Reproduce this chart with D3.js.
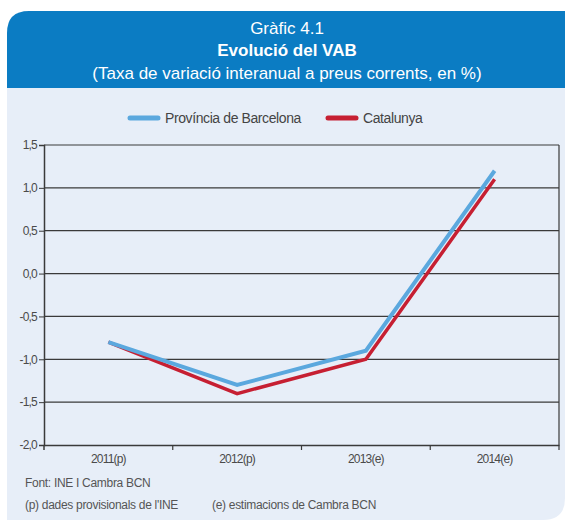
<!DOCTYPE html>
<html>
<head>
<meta charset="utf-8">
<script src="https://cdn.jsdelivr.net/npm/d3@7"></script>
<style>
  body { margin: 0; background: #fff; }
  text { font-family: "Liberation Sans", Arial, sans-serif; }
</style>
</head>
<body>
<script>
// chart data
var years = ["2011(p)", "2012(p)", "2013(e)", "2014(e)"];
var barcelona = [-0.8, -1.3, -0.9, 1.2];
var catalunya = [-0.8, -1.4, -1.0, 1.1];
var yTicks = [-2.0, -1.5, -1.0, -0.5, 0.0, 0.5, 1.0, 1.5];
var seriesNames = ["Província de Barcelona", "Catalunya"];
var seriesColors = ["#5ba8de", "#c61f32"];

var w = 565, h = 524;
var plotLeft = 44, plotRight = 559, plotTop = 145, plotBottom = 445;

var svg = d3.select("body").append("svg")
    .attr("width", w)
    .attr("height", h);

// panel with rounded corners (top-left, bottom-right)
var r = 22;
var px0 = 7, px1 = 565, py0 = 11, py1 = 520, hy = 88;
svg.append("path")
    .attr("d", "M" + px0 + "," + hy + " L" + px1 + "," + hy + " L" + px1 + "," + (py1 - r) +
         " Q" + px1 + "," + py1 + " " + (px1 - r) + "," + py1 + " L" + px0 + "," + py1 + " Z")
    .attr("fill", "#e7eef8");
svg.append("path")
    .attr("d", "M" + px0 + "," + hy + " L" + px0 + "," + (py0 + r) +
         " Q" + px0 + "," + py0 + " " + (px0 + r) + "," + py0 + " L" + px1 + "," + py0 +
         " L" + px1 + "," + hy + " Z")
    .attr("fill", "#0b7cc3");

// titles
var cx = 287;
svg.append("text").attr("x", cx).attr("y", 34).attr("text-anchor", "middle")
    .attr("fill", "#fff").attr("font-size", "17px").text("Gràfic 4.1");
svg.append("text").attr("x", cx).attr("y", 56).attr("text-anchor", "middle")
    .attr("fill", "#fff").attr("font-size", "17px").attr("font-weight", "bold").text("Evolució del VAB");
svg.append("text").attr("x", cx).attr("y", 79).attr("text-anchor", "middle")
    .attr("fill", "#fff").attr("font-size", "17px").text("(Taxa de variació interanual a preus corrents, en %)");

// scales
var xBand = d3.scaleBand().domain(years).range([plotLeft, plotRight]);
var yScale = d3.scaleLinear().domain([-2.0, 1.5]).range([plotBottom, plotTop]);
var fmt = function(d) { return d3.format(".1f")(d).replace(".", ",").replace("\u2212", "-"); };

// gridlines
svg.append("g").selectAll("line")
    .data(yTicks.filter(function(d) { return d > -2.0; }))
    .enter().append("line")
    .attr("x1", plotLeft).attr("x2", plotRight)
    .attr("y1", function(d) { return yScale(d); })
    .attr("y2", function(d) { return yScale(d); })
    .attr("stroke", "#3a3a3a").attr("stroke-width", 1.2);

// right border
svg.append("line").attr("x1", plotRight).attr("x2", plotRight).attr("y1", plotTop).attr("y2", plotBottom)
    .attr("stroke", "#3a3a3a").attr("stroke-width", 1.2);

// y axis
var yAxis = d3.axisLeft(yScale).tickValues(yTicks).tickFormat(fmt).tickSize(5).tickPadding(2);
var gy = svg.append("g").attr("transform", "translate(" + plotLeft + ",0)").call(yAxis);
gy.select(".domain").attr("stroke", "#3a3a3a").attr("stroke-width", 1.5);
gy.selectAll(".tick line").attr("stroke", "#3a3a3a");
gy.selectAll(".tick text").attr("fill", "#4a4a4a").attr("font-size", "12px")
    .style("font-family", "'Liberation Sans', Arial, sans-serif").style("letter-spacing", "-0.8px");

// x axis
var xAxis = d3.axisBottom(xBand).tickSize(0).tickPadding(9);
var gx = svg.append("g").attr("transform", "translate(0," + plotBottom + ")").call(xAxis);
gx.select(".domain").attr("stroke", "#3a3a3a").attr("stroke-width", 1.5);
gx.selectAll(".tick text").attr("fill", "#4a4a4a").attr("font-size", "12px")
    .style("font-family", "'Liberation Sans', Arial, sans-serif").style("letter-spacing", "-0.8px");
// band edge ticks
svg.append("g").selectAll("line")
    .data(years)
    .enter().append("line")
    .attr("x1", function(d) { return xBand(d) + xBand.step(); })
    .attr("x2", function(d) { return xBand(d) + xBand.step(); })
    .attr("y1", plotBottom).attr("y2", plotBottom + 5)
    .attr("stroke", "#3a3a3a").attr("stroke-width", 1.2);
svg.append("line").attr("x1", plotLeft).attr("x2", plotLeft).attr("y1", plotBottom).attr("y2", plotBottom + 5)
    .attr("stroke", "#3a3a3a").attr("stroke-width", 1.5);

// lines
var line = d3.line()
    .x(function(d, i) { return xBand(years[i]) + xBand.bandwidth() / 2; })
    .y(function(d) { return yScale(d); });

svg.append("path").datum(catalunya).attr("d", line)
    .attr("fill", "none").attr("stroke", seriesColors[1]).attr("stroke-width", 3.5);
svg.append("path").datum(barcelona).attr("d", line)
    .attr("fill", "none").attr("stroke", seriesColors[0]).attr("stroke-width", 4);

// legend
var legendX = [130, 328];
var leg = svg.append("g").selectAll("g").data(seriesNames).enter().append("g")
    .attr("transform", function(d, i) { return "translate(" + legendX[i] + ",118)"; });
leg.append("line").attr("x1", 0).attr("x2", 28).attr("y1", 0).attr("y2", 0)
    .attr("stroke", function(d, i) { return seriesColors[i]; })
    .attr("stroke-width", 5).attr("stroke-linecap", "round");
leg.append("text").attr("x", 35).attr("y", 5).attr("font-size", "14px").attr("fill", "#444")
    .style("letter-spacing", "-0.4px")
    .text(function(d) { return d; });

// footnotes
svg.append("text").attr("x", 25).attr("y", 487).attr("font-size", "12px").attr("fill", "#555")
    .style("letter-spacing", "-0.3px").text("Font: INE I Cambra BCN");
svg.append("text").attr("x", 25).attr("y", 509).attr("font-size", "12px").attr("fill", "#555")
    .style("letter-spacing", "-0.3px").text("(p) dades provisionals de l'INE");
svg.append("text").attr("x", 212).attr("y", 509).attr("font-size", "12px").attr("fill", "#555")
    .style("letter-spacing", "-0.3px").text("(e) estimacions de Cambra BCN");
</script>
</body>
</html>
